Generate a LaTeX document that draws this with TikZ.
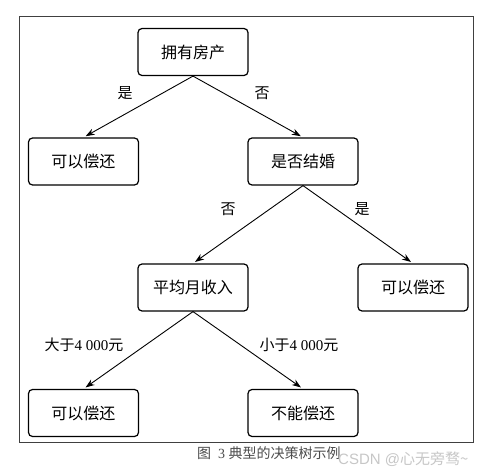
\documentclass[tikz,border=0pt]{standalone}
\usepackage{fontspec}
\setmainfont{Liberation Serif}
\newfontfamily\cjk{Noto Sans CJK SC}
\newfontfamily\wmsans{Liberation Sans}
\usetikzlibrary{arrows.meta}
\begin{document}
\begin{tikzpicture}[x=1pt,y=-1pt,
  box/.style={draw=black,line width=1.2pt,rounded corners=4pt,minimum width=110pt,minimum height=47pt,inner sep=0pt,font=\fontsize{16}{16}\selectfont\cjk},
  arr/.style={draw=black,line width=0.9pt,-{Stealth[length=9pt,width=6.5pt]},shorten >=2.5pt},
  lab/.style={font=\fontsize{15}{15}\selectfont,inner sep=0pt},
  frame/.style={draw=black!75,line width=1pt}]
\useasboundingbox (0,0) rectangle (499,476);
\fill[white] (0,0) rectangle (499,476);
\draw[frame] (19,17) rectangle (473,443);
\node[box] (root) at (193,52) {拥有房产};
\node[box] (l1) at (83.5,161.5) {可以偿还};
\node[box] (mar) at (303,161.5) {是否结婚};
\node[box] (inc) at (193,287.5) {平均月收入};
\node[box] (r2) at (413,287.5) {可以偿还};
\node[box] (l3) at (83.5,413) {可以偿还};
\node[box] (no) at (303,413) {不能偿还};
\draw[arr] (root.south) -- (l1.north);
\draw[arr] (root.south) -- (mar.north);
\draw[arr] (mar.south) -- (inc.north);
\draw[arr] (mar.south) -- (r2.north);
\draw[arr] (inc.south) -- (l3.north);
\draw[arr] (inc.south) -- (no.north);
\node[lab] (t1) at (125,93) {\cjk 是};
\node[lab] (t2) at (262,93) {\cjk 否};
\node[lab] (t3) at (228,209) {\cjk 否};
\node[lab] (t4) at (362,209) {\cjk 是};
\node[lab] (t5) at (84,345) {{\cjk 大于}4 000{\cjk 元}};
\node[lab] (t6) at (299,345) {{\cjk 小于}4 000{\cjk 元}};
\node[font=\fontsize{14}{14}\selectfont,text=black!70,inner sep=0pt,anchor=west] (cap) at (197,453) {{\cjk 图}\ \ 3 {\cjk 典型的决策树示例}};
\node[font=\fontsize{15}{15}\selectfont,text=black!22,inner sep=0pt,anchor=west] (wm) at (338,459) {{\wmsans CSDN @}{\cjk 心无旁骛\char"007E}};
\end{tikzpicture}
\end{document}
